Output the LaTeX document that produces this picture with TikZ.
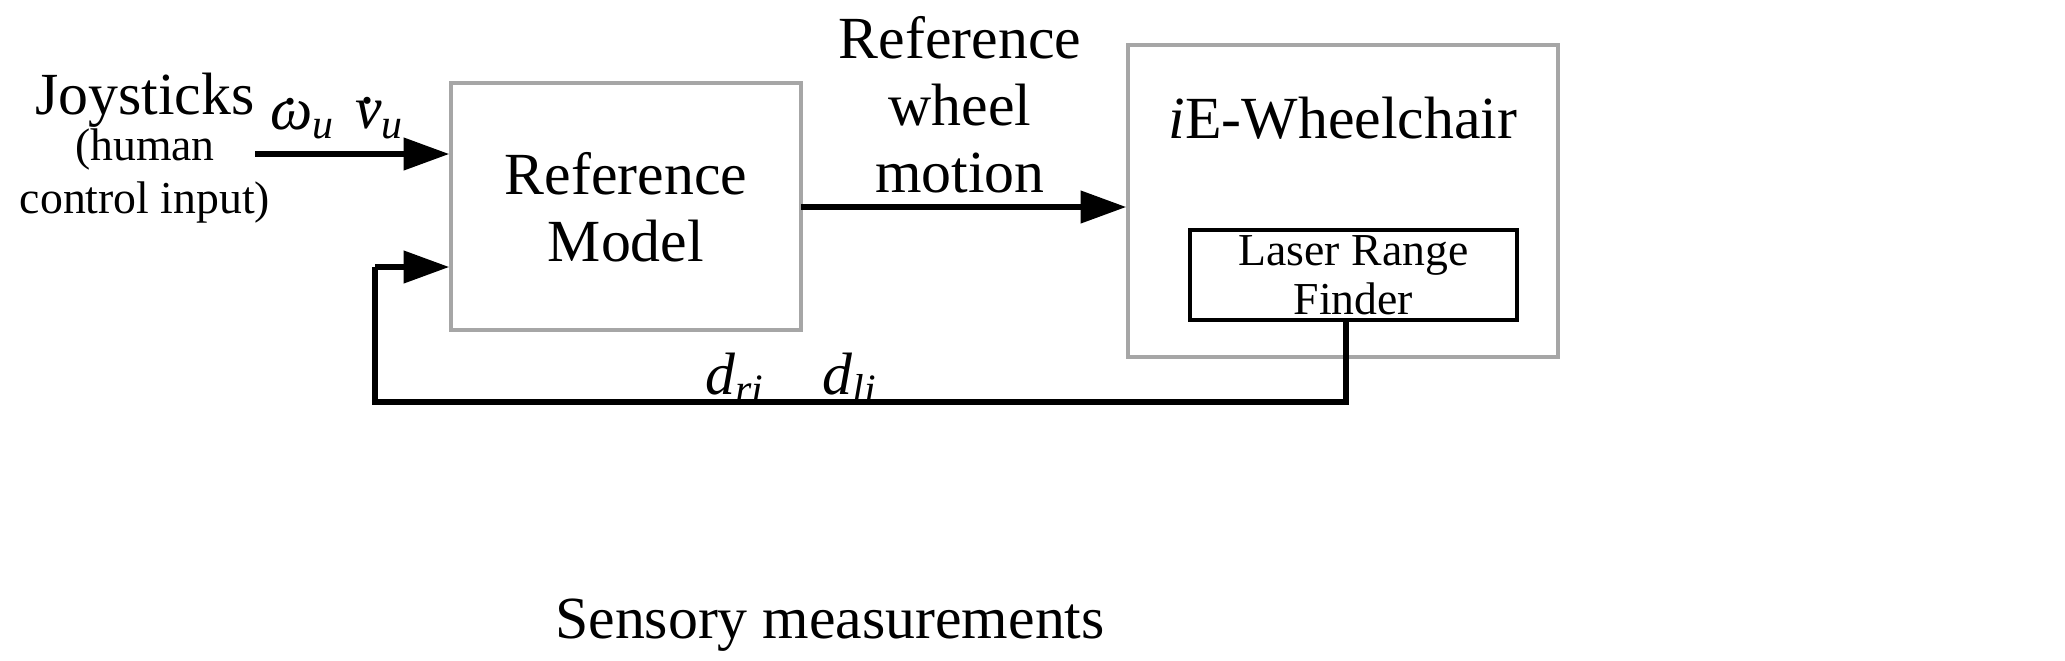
\documentclass[tikz,border=0pt]{standalone}
\usepackage{fontspec}
\setmainfont{Liberation Serif}
\usetikzlibrary{arrows.meta}
\newcommand{\iv}[2]{\textit{#1}\textsubscript{\textit{#2}}}
\newcommand{\dt}[1]{\ooalign{\textit{#1}\cr\hidewidth\raisebox{0.42em}{\textit{.}}\hidewidth\cr}}
\begin{document}
\begin{tikzpicture}[x=0.01cm,y=-0.01cm,
  big/.style={font=\fontsize{17}{19}\selectfont},
  small/.style={font=\fontsize{13}{15}\selectfont},
  mid/.style={font=\fontsize{13}{14}\selectfont},
  blk/.style={draw=gray!70, line width=1pt},
  arr/.style={line width=1.6pt,-{Triangle[length=13pt,width=9pt]}},
  ln/.style={line width=1.6pt}]
\useasboundingbox (0,0) rectangle (2065,660);
\node[blk,minimum width=350*0.01cm,minimum height=247*0.01cm] (rm) at (626,206.5) {};
\node[big,align=center] (rmt) at (626,207) {Reference\\Model};
\node[blk,minimum width=430*0.01cm,minimum height=312*0.01cm] (wc) at (1343,201) {};
\node[big] (wct) at (1343,118) {\textit{i}E-Wheelchair};
\node[draw,line width=1pt,minimum width=327*0.01cm,minimum height=90*0.01cm] (lrf) at (1353.5,275) {};
\node[mid,align=center] (lrft) at (1353.5,275) {Laser Range\\Finder};
\node[big] (joy) at (145,100) {Joysticks};
\node[small,align=center] (hum) at (145,176) {(human\\control input)};
\coordinate (jin) at (255,154);
\draw[arr] (jin) -- (jin -| rm.west);
\node[big] (om) at (303,120) {\iv{\dt{ω}}{u}};
\node[big] (vu) at (380,120) {\iv{\dt{v}}{u}};
\draw[arr] (801,207) coordinate (o1) -- (o1 -| wc.west);
\node[big,align=center] (rwm) at (960,105) {Reference\\wheel\\motion};
\coordinate (c1) at (1346,402);
\coordinate (c2) at (375,402);
\coordinate (c3) at (375,267);
\draw[ln] (lrf.south -| c1) -- (c1) -- (c2) -- (c3);
\draw[arr] (c3) -- (c3 -| rm.west);
\node[big] (dr) at (735,378) {\iv{d}{ri}};
\node[big] (dl) at (850,378) {\iv{d}{li}};
\node[big] (sm) at (830,625) {Sensory measurements};
\end{tikzpicture}
\end{document}
